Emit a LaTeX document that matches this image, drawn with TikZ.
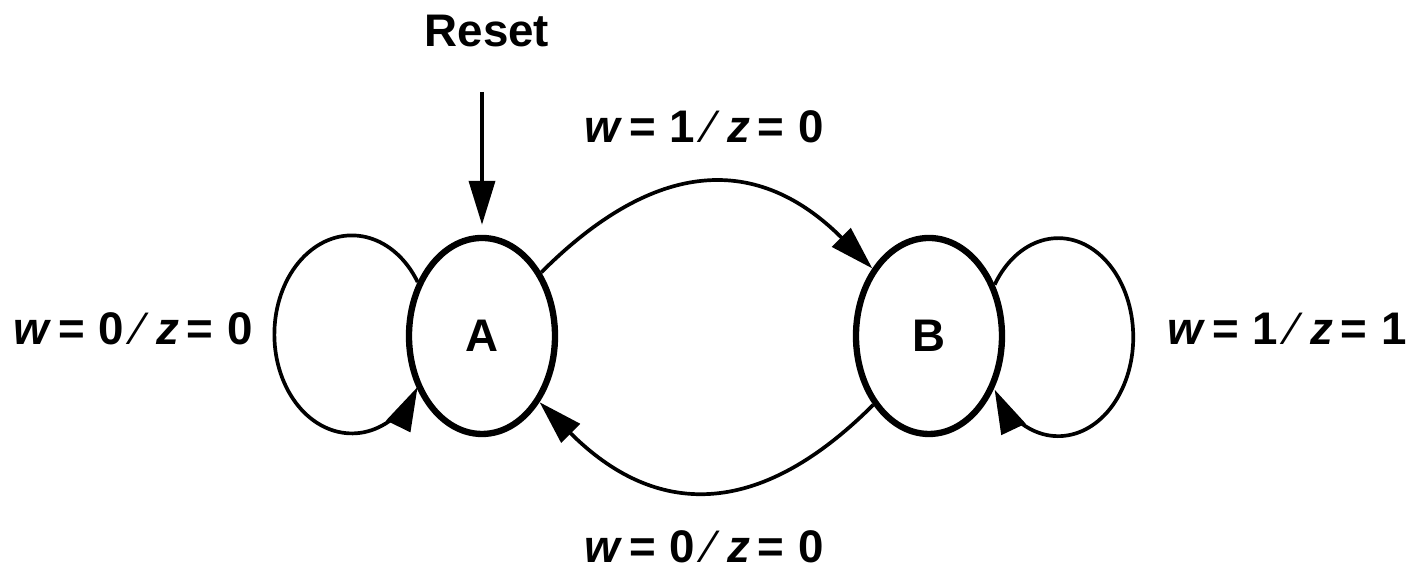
\documentclass[tikz,border=0pt]{standalone}
\usepackage{fontspec}
\setmainfont{Liberation Sans}
\usetikzlibrary{shapes.geometric,arrows.meta}

\tikzset{
	state/.style={ellipse, draw, line width=1.8pt, minimum width=1.46cm, minimum height=1.96cm, inner sep=0pt},
	trans/.style={line width=1.05pt, -{Triangle[length=0.44cm,width=0.26cm]}},
	lbl/.style={anchor=base, inner sep=0pt}
}
\newcommand{\wz}[2]{\textit{w}\kern0.15em=\kern0.3em#1\kern0.25em{\mdseries\symbol{"2044}}\kern0.3em\textit{z}\kern0.15em=\kern0.3em#2}

\begin{document}
\begin{tikzpicture}[font=\fontsize{13}{15}\selectfont\bfseries]
	\useasboundingbox (0,0) rectangle (14.13,5.73);

	\node[state] (A) at (4.82,2.37) {A};
	\node[state] (B) at (9.29,2.37) {B};

	\node[lbl] (reset) at (4.87,5.26) {Reset};
	\coordinate (rstart) at (4.82,4.81);
	\draw[trans, shorten >=0.1cm] (rstart) -- (A.north);

	\draw[trans] (A.47) to[out=45, in=135, looseness=1.25] (B.130);
	\draw[trans] (B.231) to[out=-135, in=-45, looseness=1.25] (A.311);

	\draw[trans] (A.140) arc[start angle=32, end angle=328, x radius=0.775, y radius=0.99];
	\draw[trans] (B.38) arc[start angle=148, end angle=-148, x radius=0.75, y radius=0.99];

	\node[lbl] (lA) at (1.33,2.28) {\wz{0}{0}};
	\node[lbl] (lB) at (12.87,2.28) {\wz{1}{1}};
	\node[lbl] (lAB) at (7.04,4.30) {\wz{1}{0}};
	\node[lbl] (lBA) at (7.04,0.10) {\wz{0}{0}};
\end{tikzpicture}
\end{document}
